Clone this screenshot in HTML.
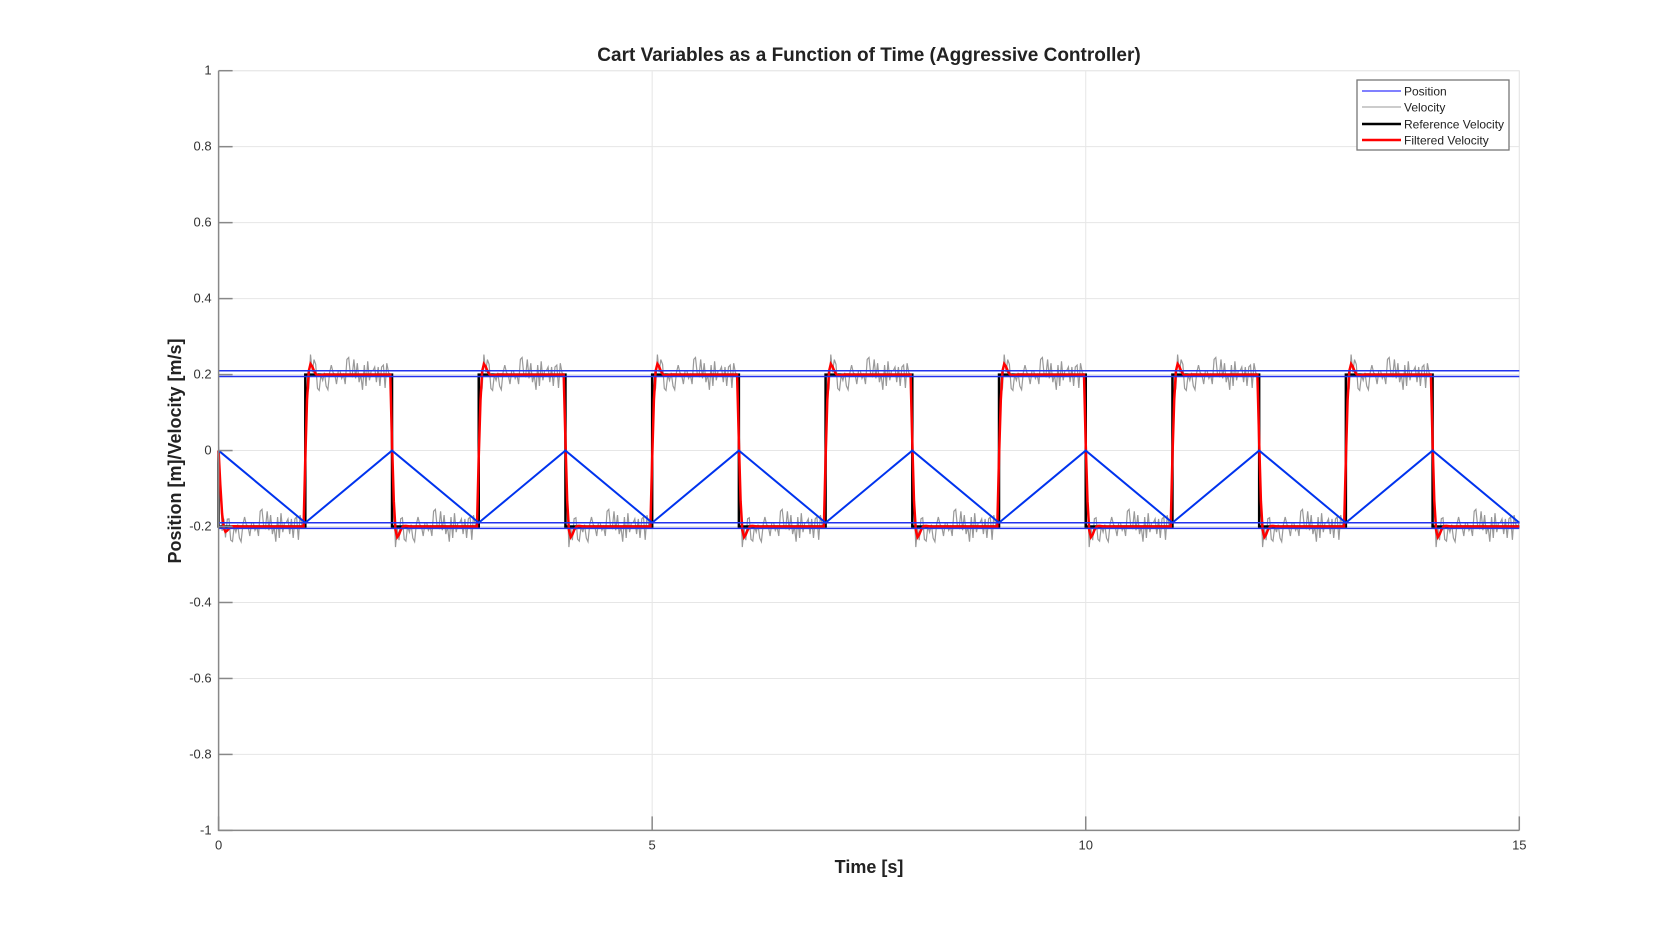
<!DOCTYPE html>
<html><head><meta charset="utf-8"><style>
body{margin:0;background:#fff;}
svg{display:block;font-family:"Liberation Sans",Arial,sans-serif;}
</style></head><body>
<svg id="chart" width="1680" height="933" viewBox="0 0 1680 933">
<rect width="1680" height="933" fill="#fff"/>
<g id="grid"></g>
<g id="series"></g>
<g id="axes"></g>
<text x="869" y="61" text-anchor="middle" font-size="19" font-weight="bold" fill="#222">Cart Variables as a Function of Time (Aggressive Controller)</text>
<text x="869" y="873" text-anchor="middle" font-size="18" font-weight="bold" fill="#222">Time [s]</text>
<text transform="translate(181,451) rotate(-90)" text-anchor="middle" font-size="18" font-weight="bold" fill="#222">Position [m]/Velocity [m/s]</text>
<g>
<rect x="1357" y="80" width="152" height="70" fill="#fff" stroke="#777" stroke-width="1.3"/>
<line x1="1362" y1="91" x2="1401" y2="91" stroke="#0000ff" stroke-width="1"/>
<text x="1404" y="95.5" font-size="12" fill="#222">Position</text>
<line x1="1362" y1="107" x2="1401" y2="107" stroke="#999" stroke-width="1"/>
<text x="1404" y="111.5" font-size="12" fill="#222">Velocity</text>
<line x1="1362" y1="124" x2="1401" y2="124" stroke="#000" stroke-width="2.5"/>
<text x="1404" y="128.5" font-size="12" fill="#222">Reference Velocity</text>
<line x1="1362" y1="140" x2="1401" y2="140" stroke="#ff0000" stroke-width="2.5"/>
<text x="1404" y="144.5" font-size="12" fill="#222">Filtered Velocity</text>
</g>
</svg>
<script>
const xTicks=[0,5,10,15];
const yTicks=[-1,-0.8,-0.6,-0.4,-0.2,0,0.2,0.4,0.6,0.8,1];
const yTickLabels=["-1","-0.8","-0.6","-0.4","-0.2","0","0.2","0.4","0.6","0.8","1"];
const switchTimes=[0,1,2,3,4,5,6,7,8,9,10,11,12,13,14,15];
const refLevels=[-0.2,0.2,-0.2,0.2,-0.2,0.2,-0.2,0.2,-0.2,0.2,-0.2,0.2,-0.2,0.2,-0.2];
const posTimes=[0,1,2,3,4,5,6,7,8,9,10,11,12,13,14,15];
const posValues=[0,-0.19,0,-0.19,0,-0.19,0,-0.19,0,-0.19,0,-0.19,0,-0.19,0,-0.19];
const boundLines=[0.21,0.195,-0.19,-0.205];
const noise=[0.01,-0.03,0.035,-0.01,0.0,0.025,-0.04,0.01,0.02,-0.015,0.03,-0.025,0.005,0.0,-0.045,0.025,0.01,-0.02,0.04,0.0,-0.015,0.025,-0.035,0.01,0.0,0.045,-0.025,0.005,-0.015,0.03,0.02,-0.04,0.0,0.01,-0.03,0.03,0.005,-0.02,0.025,-0.005,0.01,-0.04,0.025,0.0,0.02,-0.03,0.04,-0.01,0.005,-0.035];
const X0=218.6,X1=1519.3,Y0=70.7,Y1=830.4;
const xs=t=>X0+(t-0)/(15-0)*(X1-X0);
const ys=v=>Y1-(v+1)/2*(Y1-Y0);
const NS='http://www.w3.org/2000/svg';
function mk(tag,attrs,parent){const e=document.createElementNS(NS,tag);for(const k in attrs)e.setAttribute(k,attrs[k]);parent.appendChild(e);return e;}
const grid=document.getElementById('grid'),axes=document.getElementById('axes'),ser=document.getElementById('series');
mk('rect',{x:X0,y:Y0,width:X1-X0,height:Y1-Y0,fill:'none',stroke:'#ebebeb','stroke-width':1},grid);
yTicks.forEach((v,i)=>{
 const g=mk('line',{x1:X0,x2:X1,y1:ys(v),y2:ys(v),stroke:'#e6e6e6','stroke-width':1},grid);
 
 
 const tk=mk('line',{x1:X0,x2:X0+14,y1:ys(v),y2:ys(v),stroke:'#888','stroke-width':1.5},axes);
 
 
 const t=mk('text',{x:X0-7,y:ys(v)+4,'text-anchor':'end','font-size':13,fill:'#333'},axes);
 t.textContent=yTickLabels[i];
 
 
});
xTicks.forEach(v=>{
 const g=mk('line',{x1:xs(v),x2:xs(v),y1:Y0,y2:Y1,stroke:'#e6e6e6','stroke-width':1},grid);
 
 
 const tk=mk('line',{x1:xs(v),x2:xs(v),y1:Y1,y2:Y1-14,stroke:'#888','stroke-width':1.5},axes);
 
 
 const t=mk('text',{x:xs(v),y:Y1+19,'text-anchor':'middle','font-size':13,fill:'#333'},axes);
 t.textContent=String(v);
 
 
});
const ax=mk('path',{d:`M${X0},${Y0}V${Y1}H${X1}`,fill:'none',stroke:'#888','stroke-width':1.5},axes);


function refAt(t){for(let i=0;i<refLevels.length;i++){if(t<switchTimes[i+1])return refLevels[i];}return refLevels[refLevels.length-1];}
const dt=0.02;let vd='',fd='';let f=0,a=0;
for(let k=0;k*dt<=15.0001;k++){
 const t=k*dt;const r=k===0?0:refAt(t);
 a=a*0.3+(r-f)*0.45; f+=a;
 const v=f+noise[(k*7)%noise.length];
 vd+=(k?'L':'M')+xs(t).toFixed(1)+','+ys(v).toFixed(1);
 fd+=(k?'L':'M')+xs(t).toFixed(1)+','+ys(f).toFixed(1);
}
const vp=mk('path',{d:vd,fill:'none',stroke:'#999','stroke-width':1.2},ser);


let rd=`M${xs(0)},${ys(0)}`;
refLevels.forEach((l,i)=>{rd+=`L${xs(switchTimes[i])},${ys(l)}L${xs(switchTimes[i+1])},${ys(l)}`;});
const rp=mk('path',{d:rd,fill:'none',stroke:'#000','stroke-width':2.5},ser);


const fp=mk('path',{d:fd,fill:'none',stroke:'#ff0000','stroke-width':2.5},ser);


let pd='';posTimes.forEach((t,i)=>{pd+=(i?'L':'M')+xs(t)+','+ys(posValues[i]);});
const pp=mk('path',{d:pd,fill:'none',stroke:'#0033ee','stroke-width':2},ser);


boundLines.forEach(b=>{
 const l=mk('line',{x1:X0,x2:X1,y1:ys(b),y2:ys(b),stroke:'#2233ee','stroke-width':1.5},ser);
 
 
});
</script>
</body></html>
